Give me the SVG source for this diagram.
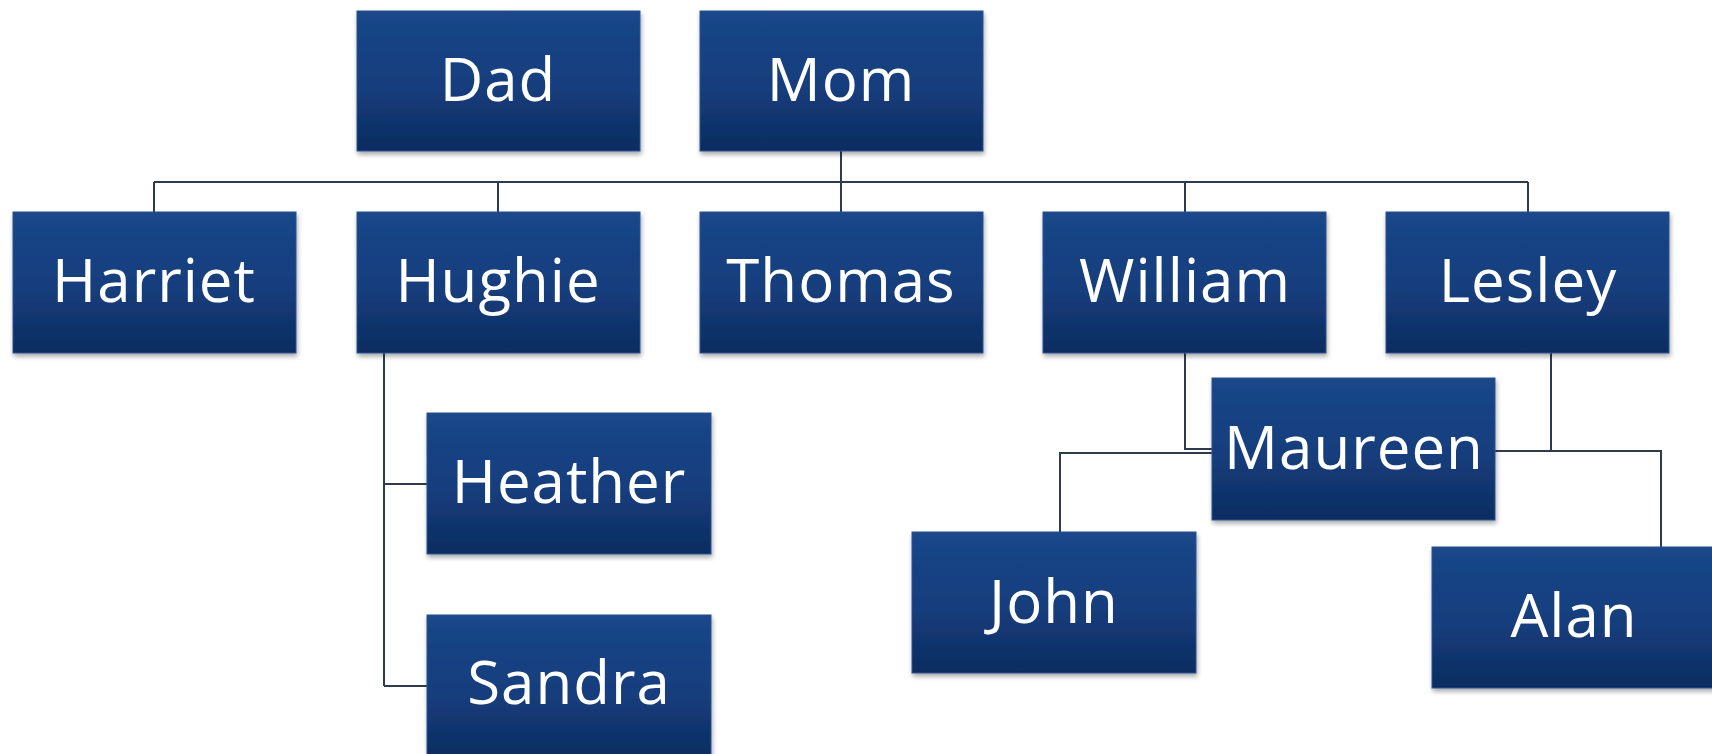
<svg xmlns="http://www.w3.org/2000/svg" width="1712" height="754" viewBox="0 0 1712 754">
<defs>
<linearGradient id="g" x1="0" y1="0" x2="0" y2="1">
<stop offset="0" stop-color="#1a4789"/>
<stop offset="0.55" stop-color="#153d7c"/>
<stop offset="1" stop-color="#0d2c60"/>
</linearGradient>
<filter id="sh" x="-5%" y="-5%" width="110%" height="120%">
<feGaussianBlur in="SourceAlpha" stdDeviation="2.5"/>
<feOffset dx="1" dy="3" result="b"/>
<feComponentTransfer><feFuncA type="linear" slope="0.35"/></feComponentTransfer>
<feMerge><feMergeNode/><feMergeNode in="SourceGraphic"/></feMerge>
</filter>
</defs>
<style>
.box{fill:url(#g);stroke:#285393;stroke-width:1;filter:url(#sh)}
.lbl{font-family:"Open Sans","Noto Sans",sans-serif;font-size:60px;fill:#ffffff;text-anchor:middle;letter-spacing:1px}
.c{fill:none;stroke:#2e3b4c;stroke-width:2}
</style>
<rect width="1712" height="754" fill="#ffffff"/>
<g id="connectors">
<path class="c" d="M841 151V182M154 182H1528M154 182V212M498 182V212M841 182V212M1185 182V212M1528 182V212"/>
<path class="c" d="M384 352V686M384 484H427M384 686H427"/>
<path class="c" d="M1185 352V449H1212M1212 453H1060V532"/>
<path class="c" d="M1551 352V451M1495 451H1661V547"/>
</g>
<g id="dad"><rect class="box" x="357" y="11" width="283" height="140"/><text class="lbl" x="498" y="101">Dad</text></g>
<g id="mom"><rect class="box" x="700" y="11" width="283" height="140"/><text class="lbl" x="841" y="101">Mom</text></g>
<g id="harriet"><rect class="box" x="13" y="212" width="283" height="141"/><text class="lbl" x="154" y="302">Harriet</text></g>
<g id="hughie"><rect class="box" x="357" y="212" width="283" height="141"/><text class="lbl" x="498" y="302">Hughie</text></g>
<g id="thomas"><rect class="box" x="700" y="212" width="283" height="141"/><text class="lbl" x="841" y="302">Thomas</text></g>
<g id="william"><rect class="box" x="1043" y="212" width="283" height="141"/><text class="lbl" x="1185" y="302">William</text></g>
<g id="lesley"><rect class="box" x="1386" y="212" width="283" height="141"/><text class="lbl" x="1528" y="302">Lesley</text></g>
<g id="heather"><rect class="box" x="427" y="413" width="284" height="141"/><text class="lbl" x="569" y="503">Heather</text></g>
<g id="sandra"><rect class="box" x="427" y="615" width="284" height="145"/><text class="lbl" x="569" y="704">Sandra</text></g>
<g id="maureen"><rect class="box" x="1212" y="378" width="283" height="142"/><text class="lbl" x="1354" y="469">Maureen</text></g>
<g id="john"><rect class="box" x="912" y="532" width="284" height="141"/><text class="lbl" x="1054" y="623">John</text></g>
<g id="alan"><rect class="box" x="1432" y="547" width="284" height="141"/><text class="lbl" x="1574" y="637">Alan</text></g>
</svg>
